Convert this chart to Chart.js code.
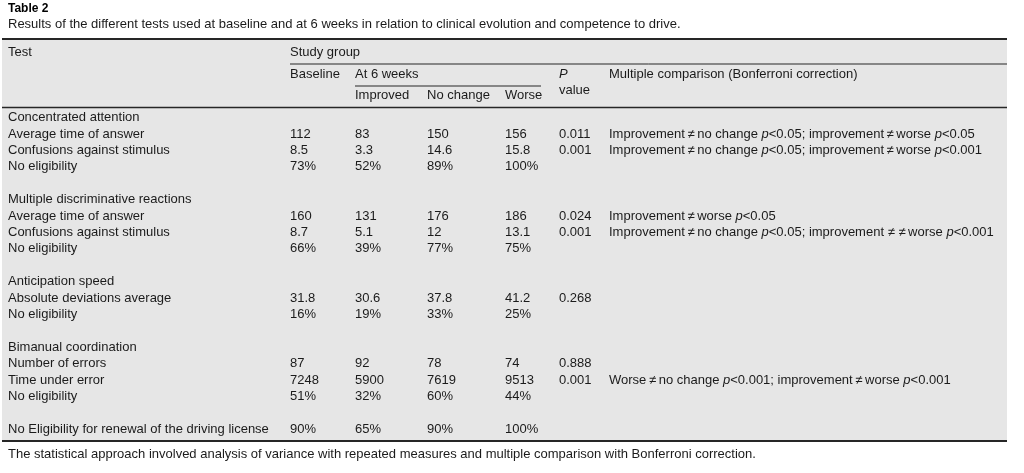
<!DOCTYPE html>
<html>
<head>
<meta charset="utf-8">
<title>Table 2</title>
<script src="https://cdn.jsdelivr.net/npm/chart.js@4.4.1/dist/chart.umd.min.js"></script>
<style>
  html, body { margin: 0; padding: 0; background: #fff; }
  #wrap { width: 1024px; height: 473px; position: relative; }
</style>
</head>
<body>
<div id="wrap"><canvas id="tbl"></canvas></div>
<script>
// ---- table content ----
const rowLabels = [
  'Concentrated attention', 'Average time of answer', 'Confusions against stimulus', 'No eligibility', '',
  'Multiple discriminative reactions', 'Average time of answer', 'Confusions against stimulus', 'No eligibility', '',
  'Anticipation speed', 'Absolute deviations average', 'No eligibility', '',
  'Bimanual coordination', 'Number of errors', 'Time under error', 'No eligibility', '',
  'No Eligibility for renewal of the driving license'
];
const pctRows = [3, 8, 12, 17, 19];

const baseline = [null, 112, 8.5, 73, null, null, 160, 8.7, 66, null, null, 31.8, 16, null, null, 87, 7248, 51, null, 90];
const improved = [null, 83, 3.3, 52, null, null, 131, 5.1, 39, null, null, 30.6, 19, null, null, 92, 5900, 32, null, 65];
const noChange = [null, 150, 14.6, 89, null, null, 176, 12, 77, null, null, 37.8, 33, null, null, 78, 7619, 60, null, 90];
const worse    = [null, 156, 15.8, 100, null, null, 186, 13.1, 75, null, null, 41.2, 25, null, null, 74, 9513, 44, null, 100];
const pValues  = [null, 0.011, 0.001, null, null, null, 0.024, 0.001, null, null, null, 0.268, null, null, null, 0.888, 0.001, null, null, null];

// *...* marks italic runs
const comparisons = [
  null,
  'Improvement\u2009\u2260\u2009no change *p*<0.05; improvement\u2009\u2260\u2009worse *p*<0.05',
  'Improvement\u2009\u2260\u2009no change *p*<0.05; improvement\u2009\u2260\u2009worse *p*<0.001',
  null, null, null,
  'Improvement\u2009\u2260\u2009worse *p*<0.05',
  'Improvement\u2009\u2260\u2009no change *p*<0.05; improvement \u2260 \u2260\u2009worse *p*<0.001',
  null, null, null, null, null, null, null, null,
  'Worse\u2009\u2260\u2009no change *p*<0.001; improvement\u2009\u2260\u2009worse *p*<0.001',
  null, null, null
];

const titleText = 'Table 2';
const subtitleText = 'Results of the different tests used at baseline and at 6 weeks in relation to clinical evolution and competence to drive.';
const footText = 'The statistical approach involved analysis of variance with repeated measures and multiple comparison with Bonferroni correction.';

// ---- layout (pixels from the left of the body area) ----
const COL = { baseline: 0, improved: 65, noChange: 137, worse: 215, p: 269, comp: 319, sixEnd: 251, end: 717 };
const FONT = "'Liberation Sans', Arial, sans-serif";
const INK = '#1b1b1b';

function fmt(v, i) {
  if (v == null) return '';
  return pctRows.includes(i) ? v + '%' : String(v);
}

function column(values, x, format) {
  return values.map((v, i) => ({ x: x, y: i, text: format ? format(v, i) : (v || '') }));
}

function cellSet(label, data) {
  return { label: label, data: data, pointRadius: 0, showLine: false };
}

function drawRich(ctx, str, x, y) {
  const parts = str.split('*');
  parts.forEach((part, k) => {
    ctx.font = (k % 2 ? 'italic ' : '') + '13px ' + FONT;
    ctx.fillText(part, x, y);
    x += ctx.measureText(part).width;
  });
}

const tablePlugin = {
  id: 'tableFrame',
  beforeDraw(chart) {
    const { ctx, chartArea: a } = chart;
    const xs = chart.scales.x;
    const top = a.top - 70.5, bottom = a.bottom + 3.5;
    ctx.save();
    ctx.fillStyle = '#e6e6e6';
    ctx.fillRect(2, top, a.right - 2, bottom - top);

    ctx.strokeStyle = '#262626';
    const hline = (y, x0, x1, w) => {
      ctx.lineWidth = w;
      ctx.beginPath();
      ctx.moveTo(x0, y);
      ctx.lineTo(x1, y);
      ctx.stroke();
    };
    hline(top, 2, a.right, 2);
    hline(a.top - 45.5, xs.getPixelForValue(COL.baseline), a.right, 1);
    hline(a.top - 23.5, xs.getPixelForValue(COL.improved), xs.getPixelForValue(COL.sixEnd), 1);
    hline(a.top - 2, 2, a.right, 1.3);
    hline(bottom, 2, a.right, 2);
    ctx.restore();
  },
  afterDatasetsDraw(chart) {
    const { ctx } = chart;
    ctx.save();
    ctx.fillStyle = INK;
    ctx.textBaseline = 'middle';
    ctx.textAlign = 'left';
    chart.data.datasets.forEach((ds, d) => {
      const meta = chart.getDatasetMeta(d);
      meta.data.forEach((pt, i) => {
        const t = ds.data[i].text;
        if (!t) return;
        drawRich(ctx, t, pt.x, pt.y);
      });
    });
    ctx.restore();
  },
  afterDraw(chart) {
    const { ctx, chartArea: a } = chart;
    const xs = chart.scales.x;
    const px = v => xs.getPixelForValue(v);
    ctx.save();
    ctx.fillStyle = INK;
    ctx.textBaseline = 'middle';
    ctx.textAlign = 'left';
    ctx.font = '13px ' + FONT;
    const left = chart.scales.y.left;
    ctx.fillText('Test', left, a.top - 57.5);
    ctx.fillText('Study group', px(COL.baseline), a.top - 57.5);
    ctx.fillText('Baseline', px(COL.baseline), a.top - 35.5);
    ctx.fillText('At 6 weeks', px(COL.improved), a.top - 35.5);
    ctx.fillText('Improved', px(COL.improved), a.top - 14.5);
    ctx.fillText('No change', px(COL.noChange), a.top - 14.5);
    ctx.fillText('Worse', px(COL.worse), a.top - 14.5);
    drawRich(ctx, '*P*', px(COL.p), a.top - 35.5);
    ctx.font = '13px ' + FONT;
    ctx.fillText('value', px(COL.p), a.top - 19.5);
    ctx.fillText('Multiple comparison (Bonferroni correction)', px(COL.comp), a.top - 35.5);
    // note under the table
    ctx.fillText(footText, left, a.bottom + 16.5);
    ctx.restore();
  }
};

new Chart(document.getElementById('tbl'), {
  type: 'scatter',
  data: {
    labels: rowLabels,
    datasets: [
      cellSet('Baseline', column(baseline, COL.baseline, fmt)),
      cellSet('Improved', column(improved, COL.improved, fmt)),
      cellSet('No change', column(noChange, COL.noChange, fmt)),
      cellSet('Worse', column(worse, COL.worse, fmt)),
      cellSet('P value', column(pValues, COL.p, fmt)),
      cellSet('Multiple comparison', column(comparisons, COL.comp))
    ]
  },
  options: {
    responsive: true,
    maintainAspectRatio: false,
    animation: false,
    events: [],
    layout: { padding: { top: 1, left: 8, right: 17, bottom: 35.5 } },
    scales: {
      x: { type: 'linear', display: false, min: 0, max: COL.end },
      y: {
        type: 'category',
        labels: rowLabels,
        offset: true,
        grid: { display: false },
        border: { display: false },
        ticks: {
          autoSkip: false,
          crossAlign: 'far',
          color: INK,
          font: { family: FONT, size: 13 }
        },
        afterFit(scale) { scale.width = 282; }
      }
    },
    plugins: {
      legend: { display: false },
      tooltip: { enabled: false },
      title: {
        display: true,
        text: titleText,
        align: 'start',
        color: '#000',
        font: { family: FONT, size: 12, weight: 'bold' },
        padding: { top: 0, bottom: 1.5 }
      },
      subtitle: {
        display: true,
        text: subtitleText,
        align: 'start',
        color: INK,
        font: { family: FONT, size: 13 },
        padding: { top: 0, bottom: 77 }
      }
    }
  },
  plugins: [tablePlugin]
});
</script>
</body>
</html>
